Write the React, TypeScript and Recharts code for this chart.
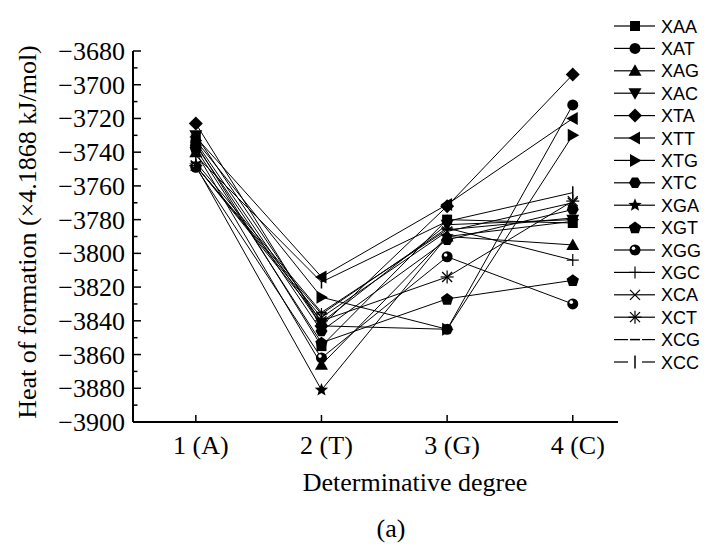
import React from "react";
import { LineChart, Line, XAxis, YAxis, Legend, Label } from "recharts";

const categories = ["1 (A)", "2 (T)", "3 (G)", "4 (C)"];
const xTicks = [1, 2, 3, 4];
const yTicks = [
  -3900, -3890, -3880, -3870, -3860, -3850, -3840, -3830, -3820, -3810, -3800,
  -3790, -3780, -3770, -3760, -3750, -3740, -3730, -3720, -3710, -3700, -3690,
  -3680,
];

const XAA = [-3735, -3855, -3780, -3782];
const XAT = [-3734, -3843, -3845, -3712];
const XAG = [-3740, -3866, -3790, -3795];
const XAC = [-3730, -3841, -3783, -3780];
const XTA = [-3723, -3843, -3772, -3694];
const XTT = [-3731, -3814, -3771, -3720];
const XTG = [-3733, -3826, -3845, -3730];
const XTC = [-3736, -3846, -3792, -3774];
const XGA = [-3748, -3881, -3790, -3781];
const XGT = [-3738, -3853, -3827, -3816];
const XGG = [-3749, -3862, -3802, -3830];
const XGC = [-3748, -3836, -3785, -3804];
const XCA = [-3748, -3838, -3787, -3770];
const XCT = [-3748, -3840, -3814, -3769];
const XCG = [-3746, -3835, -3786, -3779];
const XCC = [-3742, -3817, -3781, -3764];

const SERIES = [
  { name: "XAA", values: XAA, shape: "square" },
  { name: "XAT", values: XAT, shape: "circle" },
  { name: "XAG", values: XAG, shape: "triUp" },
  { name: "XAC", values: XAC, shape: "triDown" },
  { name: "XTA", values: XTA, shape: "diamond" },
  { name: "XTT", values: XTT, shape: "triLeft" },
  { name: "XTG", values: XTG, shape: "triRight" },
  { name: "XTC", values: XTC, shape: "hexagon" },
  { name: "XGA", values: XGA, shape: "star" },
  { name: "XGT", values: XGT, shape: "pentagon" },
  { name: "XGG", values: XGG, shape: "ball" },
  { name: "XGC", values: XGC, shape: "plus" },
  { name: "XCA", values: XCA, shape: "cross" },
  { name: "XCT", values: XCT, shape: "asterisk" },
  { name: "XCG", values: XCG, shape: "dash" },
  { name: "XCC", values: XCC, shape: "bar" },
];

const data = categories.map((c, i) => {
  const row: Record<string, number | string> = { x: xTicks[i], cat: c };
  SERIES.forEach((s) => {
    row[s.name] = s.values[i];
  });
  return row;
});

const SERIF = "'Liberation Serif', 'Times New Roman', serif";
const SANS = "'Liberation Sans', Arial, sans-serif";

function poly(cx: number, cy: number, n: number, r: number, start: number) {
  const pts: string[] = [];
  for (let k = 0; k < n; k++) {
    const a = start + (k * 2 * Math.PI) / n;
    pts.push(`${cx + r * Math.cos(a)},${cy + r * Math.sin(a)}`);
  }
  return pts.join(" ");
}

function starPts(cx: number, cy: number, ro: number, ri: number) {
  const pts: string[] = [];
  for (let k = 0; k < 10; k++) {
    const r = k % 2 === 0 ? ro : ri;
    const a = -Math.PI / 2 + (k * Math.PI) / 5;
    pts.push(`${cx + r * Math.cos(a)},${cy + r * Math.sin(a)}`);
  }
  return pts.join(" ");
}

function Marker({ shape, cx, cy }: { shape: string; cx: number; cy: number }) {
  const k = "#000";
  switch (shape) {
    case "square":
      return <rect x={cx - 5} y={cy - 5} width={10} height={10} fill={k} />;
    case "circle":
      return <circle cx={cx} cy={cy} r={5.5} fill={k} />;
    case "triUp":
      return <polygon points={`${cx},${cy - 6.5} ${cx + 6.5},${cy + 5} ${cx - 6.5},${cy + 5}`} fill={k} />;
    case "triDown":
      return <polygon points={`${cx - 6.5},${cy - 5} ${cx + 6.5},${cy - 5} ${cx},${cy + 6.5}`} fill={k} />;
    case "diamond":
      return <polygon points={`${cx},${cy - 7} ${cx + 7},${cy} ${cx},${cy + 7} ${cx - 7},${cy}`} fill={k} />;
    case "triLeft":
      return <polygon points={`${cx - 6.5},${cy} ${cx + 5},${cy - 6.5} ${cx + 5},${cy + 6.5}`} fill={k} />;
    case "triRight":
      return <polygon points={`${cx + 6.5},${cy} ${cx - 5},${cy - 6.5} ${cx - 5},${cy + 6.5}`} fill={k} />;
    case "hexagon":
      return <polygon points={poly(cx, cy, 6, 6, 0)} fill={k} />;
    case "star":
      return <polygon points={starPts(cx, cy, 7, 3)} fill={k} />;
    case "pentagon":
      return <polygon points={poly(cx, cy + 0.5, 5, 6.5, -Math.PI / 2)} fill={k} />;
    case "ball":
      return (
        <g>
          <circle cx={cx} cy={cy} r={5.5} fill={k} />
          <circle cx={cx - 1.5} cy={cy - 1.8} r={1.8} fill="#fff" />
        </g>
      );
    case "plus":
      return (
        <g stroke={k} strokeWidth={1.2}>
          <line x1={cx - 6} y1={cy} x2={cx + 6} y2={cy} />
          <line x1={cx} y1={cy - 6} x2={cx} y2={cy + 6} />
        </g>
      );
    case "cross":
      return (
        <g stroke={k} strokeWidth={1.2}>
          <line x1={cx - 5} y1={cy - 5} x2={cx + 5} y2={cy + 5} />
          <line x1={cx - 5} y1={cy + 5} x2={cx + 5} y2={cy - 5} />
        </g>
      );
    case "asterisk":
      return (
        <g stroke={k} strokeWidth={1.2}>
          <line x1={cx - 5} y1={cy - 5} x2={cx + 5} y2={cy + 5} />
          <line x1={cx - 5} y1={cy + 5} x2={cx + 5} y2={cy - 5} />
          <line x1={cx - 6.5} y1={cy} x2={cx + 6.5} y2={cy} />
          <line x1={cx} y1={cy - 6.5} x2={cx} y2={cy + 6.5} />
        </g>
      );
    case "dash":
      return <line x1={cx - 5} y1={cy} x2={cx + 5} y2={cy} stroke={k} strokeWidth={1.5} />;
    case "bar":
      return <line x1={cx} y1={cy - 6.5} x2={cx} y2={cy + 6.5} stroke={k} strokeWidth={1.5} />;
    default:
      return null;
  }
}

function YTick(props: any) {
  const { x, y, payload } = props;
  const v = payload.value as number;
  const ax = x + 8;
  const major = v % 20 === 0;
  return (
    <g>
      <line x1={ax} y1={y} x2={ax + (major ? 8 : 4.5)} y2={y} stroke="#000" strokeWidth={1.5} />
      {major && (
        <text x={x} y={y + 9} textAnchor="end" fontFamily={SERIF} fontSize={26} fill="#000">
          {`\u2212${Math.abs(v)}`}
        </text>
      )}
    </g>
  );
}

function XTick(props: any) {
  const { x, y, payload } = props;
  const v = payload.value as number;
  return (
    <g>
      <line x1={x} y1={y} x2={x} y2={y - 7} stroke="#000" strokeWidth={1.5} />
      <text x={x + 5} y={y + 32} textAnchor="middle" fontFamily={SERIF} fontSize={26} fill="#000">
        {categories[v - 1]}
      </text>
    </g>
  );
}

function LegendBox() {
  return (
    <svg width={118} height={380}>
      {SERIES.map((s, i) => {
        const cy = 26 + 22.4 * i;
        return (
          <g key={s.name}>
            <line x1={14} y1={cy} x2={28} y2={cy} stroke="#000" strokeWidth={1.2} />
            <line x1={42} y1={cy} x2={55} y2={cy} stroke="#000" strokeWidth={1.2} />
            {s.shape !== "bar" && s.shape !== "dash" && (
              <line x1={28} y1={cy} x2={42} y2={cy} stroke="#000" strokeWidth={1.2} />
            )}
            <Marker shape={s.shape} cx={35} cy={cy} />
            <text x={61} y={cy + 6.5} fontFamily={SANS} fontSize={18} fill="#000">
              {s.name}
            </text>
          </g>
        );
      })}
    </svg>
  );
}

export default function App() {
  return (
    <div style={{ position: "absolute", left: 0, top: 0, background: "#fff" }}>
      <LineChart
        width={718}
        height={550}
        data={data}
        margin={{ top: 51, right: 100, bottom: 98, left: 0 }}
      >
        <XAxis
          dataKey="x"
          type="number"
          domain={[0.5, 4.36]}
          ticks={xTicks}
          interval={0}
          height={30}
          tickSize={0}
          tickMargin={0}
          tickLine={false}
          tick={<XTick />}
          axisLine={{ stroke: "#000", strokeWidth: 2 }}
          allowDataOverflow
        >
          <Label
            content={() => (
              <g>
                <text x={415} y={491} textAnchor="middle" fontFamily={SERIF} fontSize={26} fill="#000">
                  Determinative degree
                </text>
                <text x={391} y={537} textAnchor="middle" fontFamily={SERIF} fontSize={26} fill="#000">
                  (a)
                </text>
              </g>
            )}
          />
        </XAxis>
        <YAxis
          type="number"
          domain={[-3900, -3680]}
          ticks={yTicks}
          interval={0}
          width={133}
          tickSize={0}
          tickMargin={8}
          tickLine={false}
          tick={<YTick />}
          axisLine={{ stroke: "#000", strokeWidth: 2 }}
          allowDataOverflow
        >
          <Label
            content={() => (
              <text
                x={36}
                y={232}
                transform="rotate(-90 36 232)"
                textAnchor="middle"
                fontFamily={SERIF}
                fontSize={26}
                fill="#000"
              >
                Heat of formation (×4.1868 kJ/mol)
              </text>
            )}
          />
        </YAxis>
        <Legend
          layout="vertical"
          align="center"
          verticalAlign="middle"
          wrapperStyle={{ left: 600, top: 0, width: 118, height: 380 }}
          content={() => <LegendBox />}
        />
        {SERIES.map((s) => (
          <Line
            key={s.name}
            dataKey={s.name}
            type="linear"
            stroke="#000"
            strokeWidth={1}
            legendType="none"
            activeDot={false}
            isAnimationActive={false}
            dot={(p: any) => (
              <Marker key={`${s.name}-${p.index}`} shape={s.shape} cx={p.cx} cy={p.cy} />
            )}
          />
        ))}
      </LineChart>
    </div>
  );
}
